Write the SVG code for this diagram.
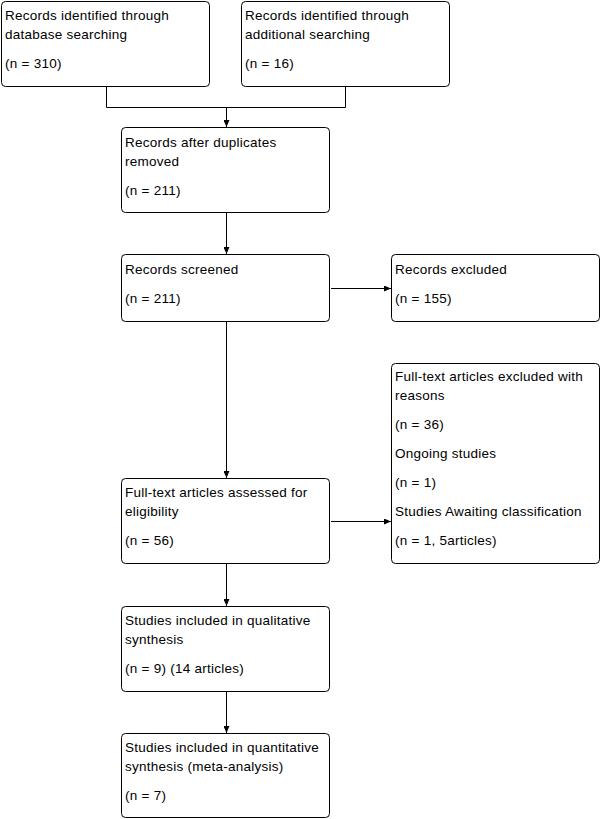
<svg xmlns="http://www.w3.org/2000/svg" width="602" height="819" viewBox="0 0 602 819">
<style>
.box{fill:#fff;stroke:#000;stroke-width:1}
.t{font-family:"Liberation Sans",Arial,sans-serif;font-size:13.5px;letter-spacing:0.25px;fill:#000}
.c{fill:none;stroke:#000;stroke-width:1}
</style>
<defs>
<marker id="ah" markerUnits="userSpaceOnUse" markerWidth="7" markerHeight="6" refX="7" refY="3" orient="auto">
<path d="M0,0 L7,3 L0,6 z" fill="#000"/>
</marker>
</defs>
<rect width="602" height="819" fill="#fff"/>
<g id="connectors">
<path class="c" d="M106.5 87 V107.5 H345.5 V87"/>
<path class="c" d="M226.5 107.5 V127" marker-end="url(#ah)"/>
<path class="c" d="M226.5 213 V254" marker-end="url(#ah)"/>
<path class="c" d="M331 288.5 H391" marker-end="url(#ah)"/>
<path class="c" d="M226.5 322 V478" marker-end="url(#ah)"/>
<path class="c" d="M331 521.5 H391" marker-end="url(#ah)"/>
<path class="c" d="M226.5 564 V606" marker-end="url(#ah)"/>
<path class="c" d="M226.5 692 V733" marker-end="url(#ah)"/>
</g>
<g id="db">
<rect class="box" x="1.5" y="1.5" width="208" height="85" rx="4"/>
<text class="t" x="5" y="20">Records identified through</text>
<text class="t" x="5" y="39">database searching</text>
<text class="t" x="5" y="68">(n = 310)</text>
</g>
<g id="additional">
<rect class="box" x="241.5" y="1.5" width="208" height="85" rx="4"/>
<text class="t" x="245" y="20">Records identified through</text>
<text class="t" x="245" y="39">additional searching</text>
<text class="t" x="245" y="68">(n = 16)</text>
</g>
<g id="dedup">
<rect class="box" x="121.5" y="127.5" width="208" height="85" rx="4"/>
<text class="t" x="125" y="147">Records after duplicates</text>
<text class="t" x="125" y="166">removed</text>
<text class="t" x="125" y="195">(n = 211)</text>
</g>
<g id="screened">
<rect class="box" x="121.5" y="254.5" width="208" height="67" rx="4"/>
<text class="t" x="125" y="274">Records screened</text>
<text class="t" x="125" y="303">(n = 211)</text>
</g>
<g id="excluded">
<rect class="box" x="391.5" y="254.5" width="208" height="67" rx="4"/>
<text class="t" x="395" y="274">Records excluded</text>
<text class="t" x="395" y="303">(n = 155)</text>
</g>
<g id="fulltext">
<rect class="box" x="121.5" y="478.5" width="208" height="85" rx="4"/>
<text class="t" x="125" y="497">Full-text articles assessed for</text>
<text class="t" x="125" y="516">eligibility</text>
<text class="t" x="125" y="545">(n = 56)</text>
</g>
<g id="reasons">
<rect class="box" x="391.5" y="363.5" width="208" height="200" rx="4"/>
<text class="t" x="395" y="381">Full-text articles excluded with</text>
<text class="t" x="395" y="400">reasons</text>
<text class="t" x="395" y="429">(n = 36)</text>
<text class="t" x="395" y="458">Ongoing studies</text>
<text class="t" x="395" y="487">(n = 1)</text>
<text class="t" x="395" y="516">Studies Awaiting classification</text>
<text class="t" x="395" y="545">(n = 1, 5articles)</text>
</g>
<g id="qualitative">
<rect class="box" x="121.5" y="606.5" width="208" height="85" rx="4"/>
<text class="t" x="125" y="625">Studies included in qualitative</text>
<text class="t" x="125" y="644">synthesis</text>
<text class="t" x="125" y="673">(n = 9) (14 articles)</text>
</g>
<g id="quantitative">
<rect class="box" x="121.5" y="733.5" width="208" height="84" rx="4"/>
<text class="t" x="125" y="752">Studies included in quantitative</text>
<text class="t" x="125" y="771">synthesis (meta-analysis)</text>
<text class="t" x="125" y="800">(n = 7)</text>
</g>
</svg>
